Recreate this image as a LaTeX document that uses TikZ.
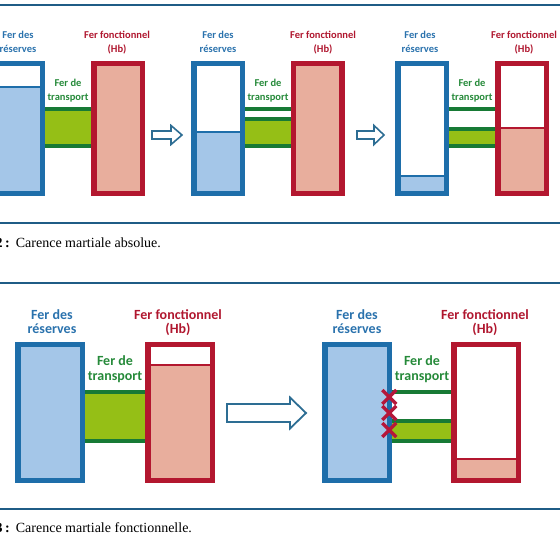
\documentclass[tikz,border=0pt]{standalone}
\usepackage{fontspec}
\setmainfont{Liberation Serif}
\newfontfamily\labfont{Carlito}
\usetikzlibrary{calc}
\pgfdeclarelayer{bg}
\pgfsetlayers{bg,main}
\definecolor{blueB}{HTML}{1E6EAA}
\definecolor{blueT}{HTML}{2A72AD}
\definecolor{lightB}{HTML}{A4C6E8}
\definecolor{redB}{HTML}{B3172F}
\definecolor{redT}{HTML}{B0172F}
\definecolor{pinkF}{HTML}{E8AE9D}
\definecolor{greenD}{HTML}{177A35}
\definecolor{greenT}{HTML}{268A3A}
\definecolor{limeF}{HTML}{95BF16}
\definecolor{sepC}{HTML}{1F5C86}
\definecolor{arrC}{HTML}{2D6D93}
\definecolor{xC}{HTML}{B5173A}
\begin{document}
\begin{tikzpicture}[x=1pt,y=-1pt,
  box/.style={line width=5.5pt, minimum width=48.5pt, minimum height=129.5pt, inner sep=0pt, outer sep=0pt},
  bigbox/.style={box, minimum width=64.5pt, minimum height=136pt},
  store/.style={draw=blueB},
  func/.style={draw=redB},
  lbl/.style={font=\labfont\bfseries\fontsize{10.5}{14}\selectfont, align=center, anchor=base, inner sep=0pt},
  biglbl/.style={lbl, font=\labfont\bfseries\fontsize{14}{14.5}\selectfont},
  slbl/.style={text=blueT},
  flbl/.style={text=redT},
  tlbl/.style={text=greenT},
  tline/.style={draw=greenD, line width=4pt},
  bline/.style={draw=blueB, line width=1.5pt},
  rline/.style={draw=redB, line width=1.5pt},
  arr/.style={draw=arrC, line width=1.6pt, fill=white, line join=miter},
  xmark/.style={draw=xC, line width=3.5pt},
  sep/.style={draw=sepC, line width=2pt},
  captxt/.style={font=\fontsize{14}{16}\selectfont, anchor=base west, inner sep=0pt}
]
\useasboundingbox (0,0) rectangle (560,551);

% separators
\draw[sep] (0,5) -- (560,5);
\draw[sep] (0,223) -- (560,223);
\draw[sep] (0,283) -- (560,283);
\draw[sep] (0,509) -- (560,509);

% ---------- top panel ----------
\node[box,store] (b1) at (18,128.5) {};
\node[box,func]  (r1) at (118,128.5) {};
\node[box,store] (b2) at (218,128.5) {};
\node[box,func]  (r2) at (317.5,128.5) {};
\node[box,store] (b3) at (422,128.5) {};
\node[box,func]  (r3) at (522,128.5) {};

\node[lbl,slbl] (lb1) at (18,53) {Fer des\\réserves};
\node[lbl,flbl] (lr1) at (117,53) {Fer fonctionnel\\(Hb)};
\node[lbl,tlbl] (lt1) at (68,101) {Fer de\\transport};
\node[lbl,slbl] (lb2) at (218,53) {Fer des\\réserves};
\node[lbl,flbl] (lr2) at (323,53) {Fer fonctionnel\\(Hb)};
\node[lbl,tlbl] (lt2) at (268,101) {Fer de\\transport};
\node[lbl,slbl] (lb3) at (420,53) {Fer des\\réserves};
\node[lbl,flbl] (lr3) at (524,53) {Fer fonctionnel\\(Hb)};
\node[lbl,tlbl] (lt3) at (472,101) {Fer de\\transport};

\begin{pgfonlayer}{bg}
  % panel 1
  \fill[lightB] (b1.south west) rectangle (b1.east |- 0,87);
  \draw[bline] (b1.west |- 0,87) -- (b1.east |- 0,87);
  \fill[pinkF] (r1.south west) rectangle (r1.north east);
  \fill[limeF] (b1.east |- 0,107) rectangle (r1.west |- 0,148);
  \draw[tline] (b1.east |- 0,109) -- (r1.west |- 0,109);
  \draw[tline] (b1.east |- 0,146) -- (r1.west |- 0,146);
  % panel 2
  \fill[lightB] (b2.south west) rectangle (b2.east |- 0,132);
  \draw[bline] (b2.west |- 0,132) -- (b2.east |- 0,132);
  \fill[pinkF] (r2.south west) rectangle (r2.north east);
  \fill[limeF] (b2.east |- 0,117) rectangle (r2.west |- 0,148);
  \draw[tline] (b2.east |- 0,109) -- (r2.west |- 0,109);
  \draw[tline] (b2.east |- 0,119) -- (r2.west |- 0,119);
  \draw[tline] (b2.east |- 0,146) -- (r2.west |- 0,146);
  % panel 3
  \fill[lightB] (b3.south west) rectangle (b3.east |- 0,176);
  \draw[bline] (b3.west |- 0,176) -- (b3.east |- 0,176);
  \fill[pinkF] (r3.south west) rectangle (r3.east |- 0,128);
  \draw[rline] (r3.west |- 0,128) -- (r3.east |- 0,128);
  \fill[limeF] (b3.east |- 0,127) rectangle (r3.west |- 0,148);
  \draw[tline] (b3.east |- 0,109) -- (r3.west |- 0,109);
  \draw[tline] (b3.east |- 0,129) -- (r3.west |- 0,129);
  \draw[tline] (b3.east |- 0,146) -- (r3.west |- 0,146);
\end{pgfonlayer}

% arrows top
\draw[arr] (152,131) -- (171,131) -- (171,125.5) -- (182,135) -- (171,144.5) -- (171,139) -- (152,139) -- cycle;
\draw[arr] (357,131) -- (374,131) -- (374,125.5) -- (384,135) -- (374,144.5) -- (374,139) -- (357,139) -- cycle;

% caption top
\node[captxt] (c2) at (-4.5,247) {\textbf{2\hspace{2.5pt}:}\hspace{6pt}Carence martiale absolue.};

% ---------- bottom panel ----------
\node[bigbox,store] (b4) at (50,412.5) {};
\node[bigbox,func]  (r4) at (180,412.5) {};
\node[bigbox,store] (b5) at (357,412.5) {};
\node[bigbox,func]  (r5) at (486,412.5) {};

\node[biglbl,slbl] (lb4) at (52,333.5) {Fer des\\réserves};
\node[biglbl,flbl] (lr4) at (178,333.5) {Fer fonctionnel\\(Hb)};
\node[biglbl,tlbl] (lt4) at (115,380) {Fer de\\transport};
\node[biglbl,slbl] (lb5) at (357,333.5) {Fer des\\réserves};
\node[biglbl,flbl] (lr5) at (485,333.5) {Fer fonctionnel\\(Hb)};
\node[biglbl,tlbl] (lt5) at (422,380) {Fer de\\transport};

\begin{pgfonlayer}{bg}
  \fill[lightB] (b4.south west) rectangle (b4.north east);
  \fill[pinkF] (r4.south west) rectangle (r4.east |- 0,365);
  \draw[rline] (r4.west |- 0,365) -- (r4.east |- 0,365);
  \fill[limeF] (b4.east |- 0,390) rectangle (r4.west |- 0,443);
  \draw[tline] (b4.east |- 0,392) -- (r4.west |- 0,392);
  \draw[tline] (b4.east |- 0,440.5) -- (r4.west |- 0,440.5);
  \fill[lightB] (b5.south west) rectangle (b5.north east);
  \fill[pinkF] (r5.south west) rectangle (r5.east |- 0,459);
  \draw[rline] (r5.west |- 0,459) -- (r5.east |- 0,459);
  \fill[limeF] (b5.east |- 0,419) rectangle (r5.west |- 0,443);
  \draw[tline] (b5.east |- 0,391.5) -- (r5.west |- 0,391.5);
  \draw[tline] (b5.east |- 0,421) -- (r5.west |- 0,421);
  \draw[tline] (b5.east |- 0,440.5) -- (r5.west |- 0,440.5);
\end{pgfonlayer}

% big arrow
\draw[arr, line width=1.8pt] (227,404) -- (290,404) -- (290,397.5) -- (306,413) -- (290,428.5) -- (290,422) -- (227,422) -- cycle;

% blocked crosses
\foreach \yy in {397,413,430}{
  \draw[xmark] ($(b5.east |- 0,\yy)+(-7,-7)$) -- ($(b5.east |- 0,\yy)+(7,7)$);
  \draw[xmark] ($(b5.east |- 0,\yy)+(-7,7)$) -- ($(b5.east |- 0,\yy)+(7,-7)$);
}

% caption bottom
\node[captxt] (c3) at (-4.5,532) {\textbf{3\hspace{2.5pt}:}\hspace{6pt}Carence martiale fonctionnelle.};
\end{tikzpicture}
\end{document}
